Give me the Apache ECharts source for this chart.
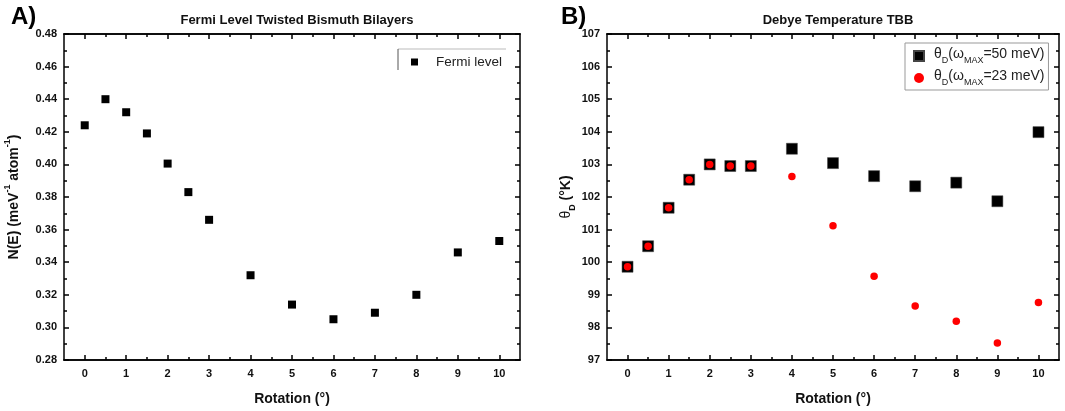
<!DOCTYPE html>
<html>
<head>
<meta charset="utf-8">
<script src="https://cdn.jsdelivr.net/npm/echarts@6/dist/echarts.min.js"></script>
<style>html,body{margin:0;padding:0;background:#fff}#c{width:1065px;height:411px}</style>
</head>
<body>
<div id="c"></div>
<script>
// ---- data ----
const rotation = [0, 0.5, 1, 1.5, 2, 2.5, 3, 4, 5, 6, 7, 8, 9, 10];
const fermiLevel = [0.424, 0.440, 0.432, 0.419, 0.4005, 0.383, 0.366, 0.332, 0.314, 0.305, 0.309, 0.320, 0.346, 0.353];
const debye50 = [99.86, 100.49, 101.67, 102.53, 103.0, 102.95, 102.95, 103.48, 103.04, 102.64, 102.33, 102.44, 101.87, 103.99];
const debye23 = [99.86, 100.49, 101.67, 102.53, 103.0, 102.95, 102.95, 102.63, 101.12, 99.57, 98.66, 98.19, 97.52, 98.76];
const xMajorTicks = [0, 1, 2, 3, 4, 5, 6, 7, 8, 9, 10];
const xMinorTicks = [0.5, 1.5, 2.5, 3.5, 4.5, 5.5, 6.5, 7.5, 8.5, 9.5];
const seriesNames = ['Fermi level', 'θD(ωMAX=50 meV)', 'θD(ωMAX=23 meV)'];

const FONT = 'Liberation Sans, Arial, sans-serif';
const chart = echarts.init(document.getElementById('c'));

function pairs(xs, ys) { return xs.map((x, i) => [x, ys[i]]); }

function xAxesFor(gi) {
  const base = {
    type: 'value', gridIndex: gi, min: -0.5, max: 10.5,
    splitLine: { show: false },
    axisLine: { show: true, onZero: false, lineStyle: { color: '#000', width: 1.5 } },
  };
  return [
    Object.assign({}, base, {
      position: 'bottom',
      name: 'Rotation (°)', nameLocation: 'middle', nameGap: 32,
      nameTextStyle: { fontFamily: FONT, fontWeight: 'bold', fontSize: 14, color: '#111' },
      axisTick: { inside: true, length: 5, customValues: xMajorTicks, lineStyle: { color: '#000', width: 1.5 } },
      axisLabel: { customValues: xMajorTicks, margin: 8, fontFamily: FONT, fontWeight: 'bold', fontSize: 11, color: '#111' }
    }),
    Object.assign({}, base, {
      position: 'bottom',
      axisTick: { inside: true, length: 3, customValues: xMinorTicks, lineStyle: { color: '#000', width: 1.5 } },
      axisLabel: { show: false }
    }),
    Object.assign({}, base, {
      position: 'top',
      axisTick: { inside: true, length: 5, customValues: xMajorTicks, lineStyle: { color: '#000', width: 1.5 } },
      axisLabel: { show: false }
    }),
    Object.assign({}, base, {
      position: 'top',
      axisTick: { inside: true, length: 3, customValues: xMinorTicks, lineStyle: { color: '#000', width: 1.5 } },
      axisLabel: { show: false }
    })
  ];
}

function yAxesFor(gi, min, max, interval, fmt, name, rich, gap) {
  const base = {
    type: 'value', gridIndex: gi, min: min, max: max, interval: interval,
    splitLine: { show: false },
    axisLine: { show: true, onZero: false, lineStyle: { color: '#000', width: 1.5 } },
    axisTick: { inside: true, length: 5, lineStyle: { color: '#000', width: 1.5 } },
    minorTick: { show: true, splitNumber: 2, length: 3, lineStyle: { color: '#000', width: 1.5 } }
  };
  return [
    Object.assign({}, base, {
      position: 'left',
      name: name, nameLocation: 'middle', nameGap: gap, nameRotate: 90,
      nameTextStyle: { fontFamily: FONT, fontWeight: 'bold', fontSize: 14, color: '#111', rich: rich },
      axisLabel: { formatter: fmt, margin: 7, fontFamily: FONT, fontWeight: 'bold', fontSize: 11, color: '#111' }
    }),
    Object.assign({}, base, {
      position: 'right',
      axisLabel: { show: false }
    })
  ];
}

const richY1 = {
  n: { fontFamily: FONT, fontWeight: 'bold', fontSize: 14, color: '#111', lineHeight: 18, verticalAlign: 'bottom' },
  sup: { fontFamily: FONT, fontWeight: 'bold', fontSize: 9, color: '#111', lineHeight: 18, verticalAlign: 'top' }
};
const richY2 = {
  n: { fontFamily: FONT, fontWeight: 'bold', fontSize: 14, color: '#111', lineHeight: 18, verticalAlign: 'top' },
  t: { fontFamily: FONT, fontWeight: 'normal', fontSize: 14, color: '#111', lineHeight: 18, verticalAlign: 'top' },
  sub: { fontFamily: FONT, fontWeight: 'bold', fontSize: 9, color: '#111', lineHeight: 18, verticalAlign: 'bottom' }
};
const legRich = {
  n: { fontFamily: FONT, fontSize: 14, color: '#222', lineHeight: 18, verticalAlign: 'top' },
  s: { fontFamily: FONT, fontSize: 9, color: '#222', lineHeight: 18, verticalAlign: 'bottom' }
};

const option = {
  animation: false,
  backgroundColor: '#fff',
  title: [
    { text: 'A)', left: 6, top: 0, textStyle: { fontFamily: FONT, fontWeight: 'bold', fontSize: 24, color: '#000' } },
    { text: 'Fermi Level Twisted Bismuth Bilayers', left: 292, top: 9, textAlign: 'center',
      textStyle: { fontFamily: FONT, fontWeight: 'bold', fontSize: 13, color: '#111' } },
    { text: 'B)', left: 556, top: 0, textStyle: { fontFamily: FONT, fontWeight: 'bold', fontSize: 24, color: '#000' } },
    { text: 'Debye Temperature TBB', left: 833, top: 9, textAlign: 'center',
      textStyle: { fontFamily: FONT, fontWeight: 'bold', fontSize: 13, color: '#111' } }
  ],
  grid: [
    { left: 64, top: 34, width: 456, height: 330 },
    { left: 607, top: 34, width: 452, height: 330 }
  ],
  xAxis: xAxesFor(0).concat(xAxesFor(1)),
  yAxis: yAxesFor(0, 0.28, 0.48, 0.02, v => v.toFixed(2),
           '{n|N(E) (meV}{sup|-1}{n| atom}{sup|-1}{n|)}', richY1, 43)
         .concat(yAxesFor(1, 97, 107, 1, v => String(Math.round(v)),
           '{t|θ}{sub|D}{n| (°K)}', richY2, 30)),
  legend: [
    { data: [seriesNames[0]], left: 411, top: 55, padding: 0, itemWidth: 7, itemHeight: 7, itemGap: 0,
      textStyle: { fontFamily: FONT, fontSize: 13.5, color: '#222', padding: [0, 0, 0, 13] } },
    { data: [seriesNames[1], seriesNames[2]], left: 905, top: 43, orient: 'vertical',
      padding: [4, 4, 3, 8], itemGap: 4, itemWidth: 10, itemHeight: 10,
      borderColor: '#999', borderWidth: 1,
      formatter: function (name) {
        const v = name.indexOf('50') >= 0 ? '50' : '23';
        return '{n|θ}{s|D}{n|(ω}{s|MAX}{n|=' + v + ' meV)}';
      },
      textStyle: { fontFamily: FONT, fontSize: 14, color: '#222', rich: legRich, padding: [0, 0, 0, 5] } }
  ],
  graphic: [
    { type: 'line', shape: { x1: 398, y1: 49, x2: 506, y2: 49 }, style: { stroke: '#bbb', lineWidth: 1 } },
    { type: 'line', shape: { x1: 398, y1: 49, x2: 398, y2: 70 }, style: { stroke: '#555', lineWidth: 1 } }
  ],
  series: [
    { name: seriesNames[0], type: 'scatter', xAxisIndex: 0, yAxisIndex: 0,
      symbol: 'rect', symbolSize: 8, itemStyle: { color: '#000', opacity: 1 },
      data: pairs(rotation, fermiLevel) },
    { name: seriesNames[1], type: 'scatter', xAxisIndex: 4, yAxisIndex: 2,
      symbol: 'rect', symbolSize: 11, itemStyle: { color: '#000', opacity: 1, borderColor: '#444', borderWidth: 0.5 },
      data: pairs(rotation, debye50) },
    { name: seriesNames[2], type: 'scatter', xAxisIndex: 4, yAxisIndex: 2, z: 3,
      symbol: 'circle', symbolSize: 7.5, itemStyle: { color: '#ff0000', opacity: 1 },
      data: pairs(rotation, debye23) }
  ]
};
chart.setOption(option);
</script>
</body>
</html>
